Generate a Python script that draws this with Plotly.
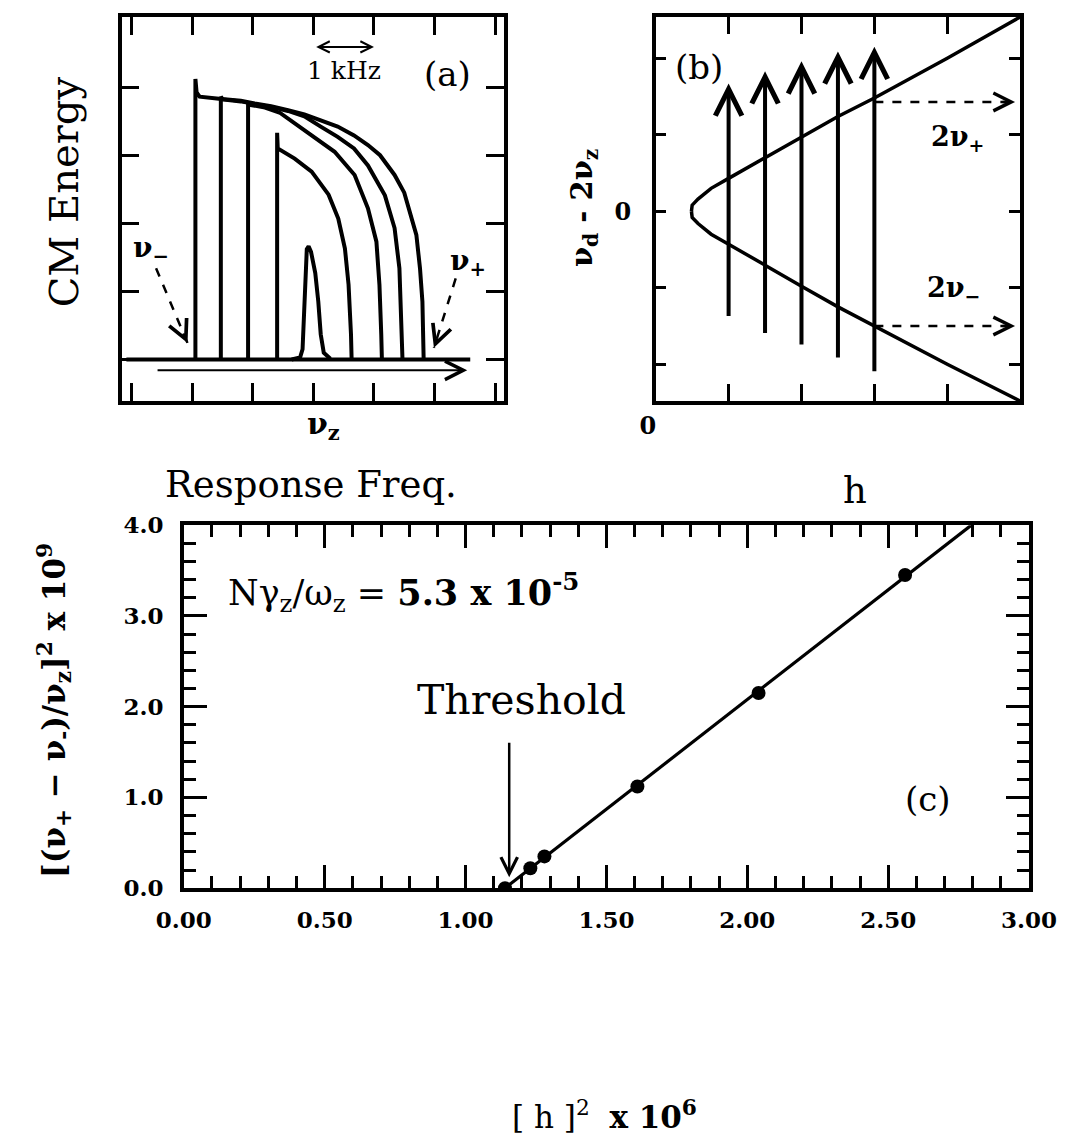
import plotly.graph_objects as go

W, H = 1087, 1145
SERIF = "DejaVu Serif"

# ---------------- Panel (a): CM energy vs response frequency (kHz from nu_z) ----------------
a_base_x = [-3.09, 2.59]
a_base_y = [0.0, 0.0]
a_c1_x = [-1.95, -1.95, -1.93, -1.88, -1.56, -1.20, -0.97, -0.70, -0.42, -0.15, 0.12, 0.40,
          0.67, 0.90, 1.10, 1.34, 1.50, 1.61, 1.70, 1.76, 1.80, 1.82]
a_c1_y = [0.00, 4.12, 3.92, 3.86, 3.83, 3.80, 3.76, 3.72, 3.66, 3.60, 3.51, 3.42,
          3.29, 3.15, 3.00, 2.71, 2.45, 2.12, 1.83, 1.34, 0.85, 0.02]
a_c2_x = [-1.53, -1.53, -1.50, -1.20, -0.97, -0.70, -0.42, -0.15, 0.12, 0.40, 0.67, 0.90,
          1.18, 1.34, 1.42, 1.45, 1.47]
a_c2_y = [0.00, 3.86, 3.82, 3.79, 3.75, 3.71, 3.65, 3.57, 3.42, 3.27, 3.10, 2.85,
          2.41, 1.93, 1.34, 0.61, 0.02]
a_c3_x = [-1.08, -1.08, -1.05, -0.80, -0.55, -0.19, 0.10, 0.35, 0.68, 0.90, 1.04, 1.09, 1.12, 1.13]
a_c3_y = [0.00, 3.78, 3.74, 3.70, 3.62, 3.39, 3.22, 3.05, 2.71, 2.22, 1.73, 1.10, 0.37, 0.02]
a_c4_x = [-0.60, -0.60, -0.59, -0.31, -0.03, 0.25, 0.41, 0.52, 0.58, 0.62, 0.63]
a_c4_y = [0.00, 3.33, 3.10, 2.95, 2.76, 2.42, 2.07, 1.63, 1.10, 0.37, 0.02]
a_pk_x = [-0.36, -0.22, -0.18, -0.16, -0.13, -0.11, -0.08, -0.04, 0.03, 0.08, 0.12, 0.17, 0.28]
a_pk_y = [0.00, 0.03, 0.15, 0.60, 1.40, 1.62, 1.66, 1.58, 1.27, 0.85, 0.37, 0.10, 0.01]
a_xticks = [-3, -2, -1, 0, 1, 2, 3]
a_yticks = [0, 1, 2, 3, 4]
a_sweep = [-2.60, 2.54, -0.16]            # x_start, x_end, y
a_khz = [0.02, 1.0, 4.59]                  # x_start, x_end, y
a_num_arrow = [-2.60, 1.34, -2.08, 0.24]   # x0, y0, x1, y1
a_nup_arrow = [2.35, 1.19, 1.99, 0.17]

# ---------------- Panel (b): nu_d - 2 nu_z vs h ----------------
b_up_x = [0.49, 0.50, 0.58, 0.76, 1.00, 1.50, 2.00, 2.50, 3.00, 4.00, 5.00]
b_up_y = [0.00, 0.08, 0.16, 0.30, 0.43, 0.70, 0.98, 1.24, 1.48, 2.00, 2.54]
b_lo_x = [0.49, 0.50, 0.58, 0.76, 1.00, 1.50, 2.00, 2.50, 3.00, 4.00, 5.00]
b_lo_y = [0.00, -0.08, -0.16, -0.30, -0.43, -0.71, -0.98, -1.25, -1.50, -2.00, -2.48]
b_arrow_x = [1.0, 1.5, 2.0, 2.5, 3.0]
b_arrow_y0 = [-1.39, -1.61, -1.76, -1.93, -2.11]
b_arrow_y1 = [1.67, 1.83, 1.96, 2.09, 2.15]
b_dash_x = [3.0, 4.93]
b_dash_plus = 1.43
b_dash_minus = -1.50

# ---------------- Panel (c): [(nu+ - nu-)/nu_z]^2 vs h^2 ----------------
c_x = [1.14, 1.23, 1.28, 1.61, 2.04, 2.56]
c_y = [0.00, 0.22, 0.35, 1.12, 2.15, 3.45]
c_fit_x = [1.14, 2.795]
c_fit_y = [0.00, 4.00]
c_thr_arrow = [1.155, 1.62, 0.12]   # x, y_tail, y_head

# target pixel boxes (as seen in the reference page)
A_X = [118.3, 503.3]
B_X = [656.7, 1024.0]
AB_Y = [15.0, 400.0]
C_X = [181.0, 1033.0]
C_Y = [524.5, 888.5]

# page calibration (screenshot mapping correction)
SX, OX = 0.956, 24.0
SY, OY = 0.979, 12.0


def px(p):
    return ((p - OX) / SX) / W


def py(p):
    return 1 - ((p - OY) / SY) / H


def dx(p):
    return [px(p[0]), px(p[1])]


def dy(p):
    return [py(p[1]), py(p[0])]


fig = go.Figure()
LA = dict(color="black", width=4)
for xs, ys in [(a_base_x, a_base_y), (a_c1_x, a_c1_y), (a_c2_x, a_c2_y),
               (a_c3_x, a_c3_y), (a_c4_x, a_c4_y), (a_pk_x, a_pk_y)]:
    fig.add_trace(go.Scatter(x=xs, y=ys, mode="lines", line=LA, xaxis="x", yaxis="y",
                             hoverinfo="skip"))
for arr in (a_num_arrow, a_nup_arrow):
    fig.add_trace(go.Scatter(x=[arr[0], arr[2]], y=[arr[1], arr[3]], mode="lines",
                             line=dict(color="black", width=2.5, dash="dash"),
                             xaxis="x", yaxis="y", hoverinfo="skip"))

LB = dict(color="black", width=3.5)
fig.add_trace(go.Scatter(x=b_up_x, y=b_up_y, mode="lines", line=LB, xaxis="x2", yaxis="y2"))
fig.add_trace(go.Scatter(x=b_lo_x, y=b_lo_y, mode="lines", line=LB, xaxis="x2", yaxis="y2"))
for yv in (b_dash_plus, b_dash_minus):
    fig.add_trace(go.Scatter(x=b_dash_x, y=[yv, yv], mode="lines",
                             line=dict(color="black", width=2.5, dash="dash"),
                             xaxis="x2", yaxis="y2"))

fig.add_trace(go.Scatter(x=c_fit_x, y=c_fit_y, mode="lines", line=dict(color="black", width=3.2),
                         xaxis="x3", yaxis="y3"))
fig.add_trace(go.Scatter(x=c_x, y=c_y, mode="markers", marker=dict(color="black", size=14),
                         xaxis="x3", yaxis="y3"))

ann = []


def text(x, y, t, size, xref="paper", yref="paper", angle=0, bold=False, xanchor="center"):
    ann.append(dict(x=x, y=y, xref=xref, yref=yref, text=t, showarrow=False, textangle=angle,
                    xanchor=xanchor, yanchor="middle",
                    font=dict(family=SERIF, size=size, color="black",
                              weight="bold" if bold else "normal")))


def arrow(x, y, ax, ay, xr, yr, width, head=5, size=1.0, absolute=True, side="end"):
    d = dict(x=x, y=y, xref=xr, yref=yr, text="", showarrow=True, arrowhead=head,
             arrowsize=size, arrowwidth=width, arrowcolor="black", ax=ax, ay=ay,
             arrowside=side, startarrowhead=head, startarrowsize=size, standoff=0)
    if absolute:
        d["axref"] = xr
        d["ayref"] = yr
    ann.append(d)


# panel a texts
text(px(60), py(190), "CM Energy", 40, angle=-90)
text(px(322), py(425), "<b>ν</b><sub><b>z</b></sub>", 30)
text(px(309), py(484), "Response Freq.", 37)
text(2.22, 4.19, "(a)", 34, xref="x", yref="y")
text(0.5, 4.24, "1 kHz", 25, xref="x", yref="y")
text(-2.68, 1.62, "<b>ν</b><sub><b>−</b></sub>", 28, xref="x", yref="y")
text(2.55, 1.43, "<b>ν</b><sub><b>+</b></sub>", 28, xref="x", yref="y")
arrow(a_sweep[1], a_sweep[2], a_sweep[0], a_sweep[2], "x", "y", 2, head=5, size=1.8)
arrow(a_khz[1], a_khz[2], a_khz[0], a_khz[2], "x", "y", 2, head=5, size=1.1, side="end+start")
arrow(a_num_arrow[2], a_num_arrow[3], -5, -11, "x", "y", 2.5, head=5, size=1.5, absolute=False)
arrow(a_nup_arrow[2], a_nup_arrow[3], 4, -11, "x", "y", 2.5, head=5, size=1.5, absolute=False)

# panel b texts
text(0.59, 1.89, "(b)", 34, xref="x2", yref="y2")
text(4.14, 0.95, "<b>2ν</b><sub><b>+</b></sub>", 27, xref="x2", yref="y2")
text(4.09, -1.02, "<b>2ν</b><sub><b>−</b></sub>", 27, xref="x2", yref="y2")
text(px(585), py(207), "<b>ν</b><sub><b>d</b></sub><b> - 2ν</b><sub><b>z</b></sub>", 29, angle=-90)
text(px(858), py(490), "h", 37)
for xa, y0, y1 in zip(b_arrow_x, b_arrow_y0, b_arrow_y1):
    arrow(xa, y1, xa, y0, "x2", "y2", 4, head=5, size=1.3)
for yv in (b_dash_plus, b_dash_minus):
    arrow(b_dash_x[1], yv, -14, 0, "x2", "y2", 2.5, head=5, size=1.4, absolute=False)

# panel c texts
text(0.15, 3.26, "Nγ<sub>z</sub>/ω<sub>z</sub> = <b>5.3 x 10</b><sup><b>-5</b></sup>", 35,
     xref="x3", yref="y3", xanchor="left")
text(1.20, 2.07, "Threshold", 41, xref="x3", yref="y3")
text(2.64, 0.98, "(c)", 34, xref="x3", yref="y3")
arrow(c_thr_arrow[0], c_thr_arrow[2], c_thr_arrow[0], c_thr_arrow[1], "x3", "y3", 2.5, head=5, size=1.3)
text(px(50), py(710),
     "[(ν<sub>+</sub> − ν<sub>-</sub>)/ν<sub>z</sub>]<sup>2</sup> x 10<sup>9</sup>", 31, angle=-90,
     bold=True)
text(px(605), py(1116), "[ h ]<sup>2</sup>  <b>x 10</b><sup><b>6</b></sup>", 31)

BOX = dict(showline=True, linewidth=3.5, linecolor="black", mirror="allticks", ticks="inside",
           tickcolor="black", showgrid=False, zeroline=False)
TF = dict(family=SERIF, size=23, color="black", weight="bold")

fig.update_layout(
    width=W, height=H, margin=dict(l=0, r=0, t=0, b=0),
    paper_bgcolor="white", plot_bgcolor="white", showlegend=False,
    xaxis=dict(domain=dx(A_X), range=[-3.17, 3.14], anchor="y", tickvals=a_xticks,
               ticklen=18, tickwidth=3, showticklabels=False, **BOX),
    yaxis=dict(domain=dy(AB_Y), range=[-0.61, 5.03], anchor="x", tickvals=a_yticks,
               ticklen=18, tickwidth=3, showticklabels=False, **BOX),
    xaxis2=dict(domain=dx(B_X), range=[0, 5], anchor="y2", tickvals=[0, 1, 2, 3, 4, 5],
                ticktext=["0", "", "", "", "", ""], ticklen=17, tickwidth=3,
                tickfont=dict(family=SERIF, size=24, color="black", weight="bold"),
                ticklabelstandoff=0, ticklabelshift=-8, **BOX),
    yaxis2=dict(domain=dy(AB_Y), range=[-2.48, 2.54], anchor="x2", tickvals=[-2, -1, 0, 1, 2],
                ticktext=["", "", "0", "", ""], ticklen=11, tickwidth=3,
                tickfont=dict(family=SERIF, size=24, color="black", weight="bold"),
                ticklabelstandoff=16, **BOX),
    xaxis3=dict(domain=dx(C_X), range=[0, 3], anchor="y3", dtick=0.5, tick0=0, tickformat=".2f",
                ticklen=23, tickwidth=3,
                minor=dict(dtick=0.1, ticks="inside", ticklen=12, tickwidth=2.5, tickcolor="black"),
                tickfont=TF, ticklabelstandoff=8, **BOX),
    yaxis3=dict(domain=dy(C_Y), range=[0, 4], anchor="x3", dtick=1, tick0=0, tickformat=".1f",
                ticklen=23, tickwidth=3,
                minor=dict(dtick=0.2, ticks="inside", ticklen=12, tickwidth=2.5, tickcolor="black"),
                tickfont=TF, ticklabelstandoff=12, **BOX),
    annotations=ann,
)

fig.write_html("out.html")
